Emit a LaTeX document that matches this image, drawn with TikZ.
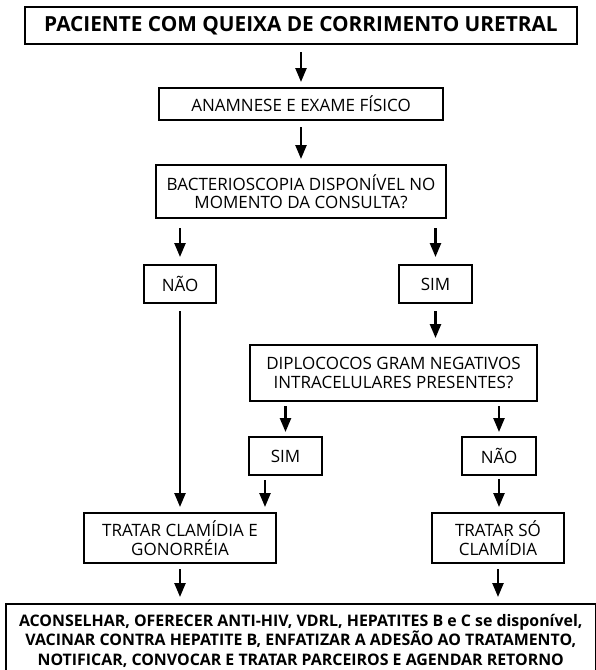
\documentclass[tikz,border=0pt]{standalone}
\usepackage{fontspec}
\setmainfont{Open Sans}
\usetikzlibrary{arrows.meta}
\tikzset{
  caixa/.style={draw, line width=2pt, inner sep=0pt, align=center, font=\fontsize{17}{18.5}\selectfont},
  caixatit/.style={caixa, font=\bfseries\fontsize{20.8}{24}\selectfont},
  caixafim/.style={caixa, font=\bfseries\fontsize{15.9}{19.6}\selectfont},
  seta/.style={line width=2.4pt, -{Triangle[width=11pt,length=14pt]}},
}
\begin{document}
\begin{tikzpicture}[x=1pt,y=-1pt]%
\useasboundingbox (0,0) rectangle (596,670);%
\node[caixatit, minimum width=552pt, minimum height=37pt] (titulo) at (301,25.5) {PACIENTE COM QUEIXA DE CORRIMENTO URETRAL};%
\node[caixa, minimum width=284pt, minimum height=32pt] (anam) at (301,104) {ANAMNESE E EXAME FÍSICO};%
\node[caixa, minimum width=290pt, minimum height=53pt] (bact) at (301,191.5) {BACTERIOSCOPIA DISPONÍVEL NO\\MOMENTO DA CONSULTA?};%
\node[caixa, minimum width=72pt, minimum height=38pt] (nao1) at (180,284) {NÃO};%
\node[caixa, minimum width=73pt, minimum height=38pt] (sim1) at (435.5,284) {SIM};%
\node[caixa, minimum width=287pt, minimum height=56pt] (diplo) at (393.5,373) {DIPLOCOCOS GRAM NEGATIVOS\\INTRACELULARES PRESENTES?};%
\node[caixa, minimum width=73pt, minimum height=38pt] (sim2) at (285.5,456) {SIM};%
\node[caixa, minimum width=74pt, minimum height=38pt] (nao2) at (499,456) {NÃO};%
\node[caixa, minimum width=192pt, minimum height=50pt] (trat1) at (180,538) {TRATAR CLAMÍDIA E\\GONORRÉIA};%
\node[caixa, minimum width=132pt, minimum height=50pt] (trat2) at (498,538) {TRATAR SÓ\\CLAMÍDIA};%
\node[caixafim, minimum width=589.5pt, inner ysep=10pt, anchor=north] (final) at (300.75,603) {ACONSELHAR, OFERECER ANTI-HIV, VDRL, HEPATITES B e C se disponível,\\VACINAR CONTRA HEPATITE B, ENFATIZAR A ADESÃO AO TRATAMENTO,\\NOTIFICAR, CONVOCAR E TRATAR PARCEIROS E AGENDAR RETORNO};%
\coordinate (xsim) at (265,0);%
% setas
\draw[seta] ([yshift=-7pt]titulo.south -| anam.north) -- ([yshift=5pt]anam.north);%
\draw[seta] ([yshift=-6pt]anam.south) -- ([yshift=5pt]bact.north);%
\draw[seta] ([yshift=-9pt]bact.south -| nao1.north) -- ([yshift=7pt]nao1.north);%
\draw[seta] ([yshift=-9pt]bact.south -| sim1.north) -- ([yshift=7pt]sim1.north);%
\draw[seta] ([yshift=-7pt]nao1.south) -- ([yshift=5pt]trat1.north);%
\draw[seta] ([yshift=-7pt]sim1.south) -- ([yshift=6pt]diplo.north -| sim1.south);%
\draw[seta] ([yshift=-4pt]diplo.south -| sim2.north) -- ([yshift=4pt]sim2.north);%
\draw[seta] ([yshift=-4pt]diplo.south -| nao2.north) -- ([yshift=4pt]nao2.north);%
\draw[seta] ([yshift=-4pt]sim2.south -| xsim) -- ([yshift=5pt]trat1.north -| xsim);%
\draw[seta] ([yshift=-3pt]nao2.south) -- ([yshift=5pt]trat2.north -| nao2.south);%
\draw[seta] ([yshift=-5pt]trat1.south) -- ([yshift=6pt]final.north -| trat1.south);%
\draw[seta] ([yshift=-5pt]trat2.south) -- ([yshift=6pt]final.north -| trat2.south);%
\end{tikzpicture}
\end{document}
